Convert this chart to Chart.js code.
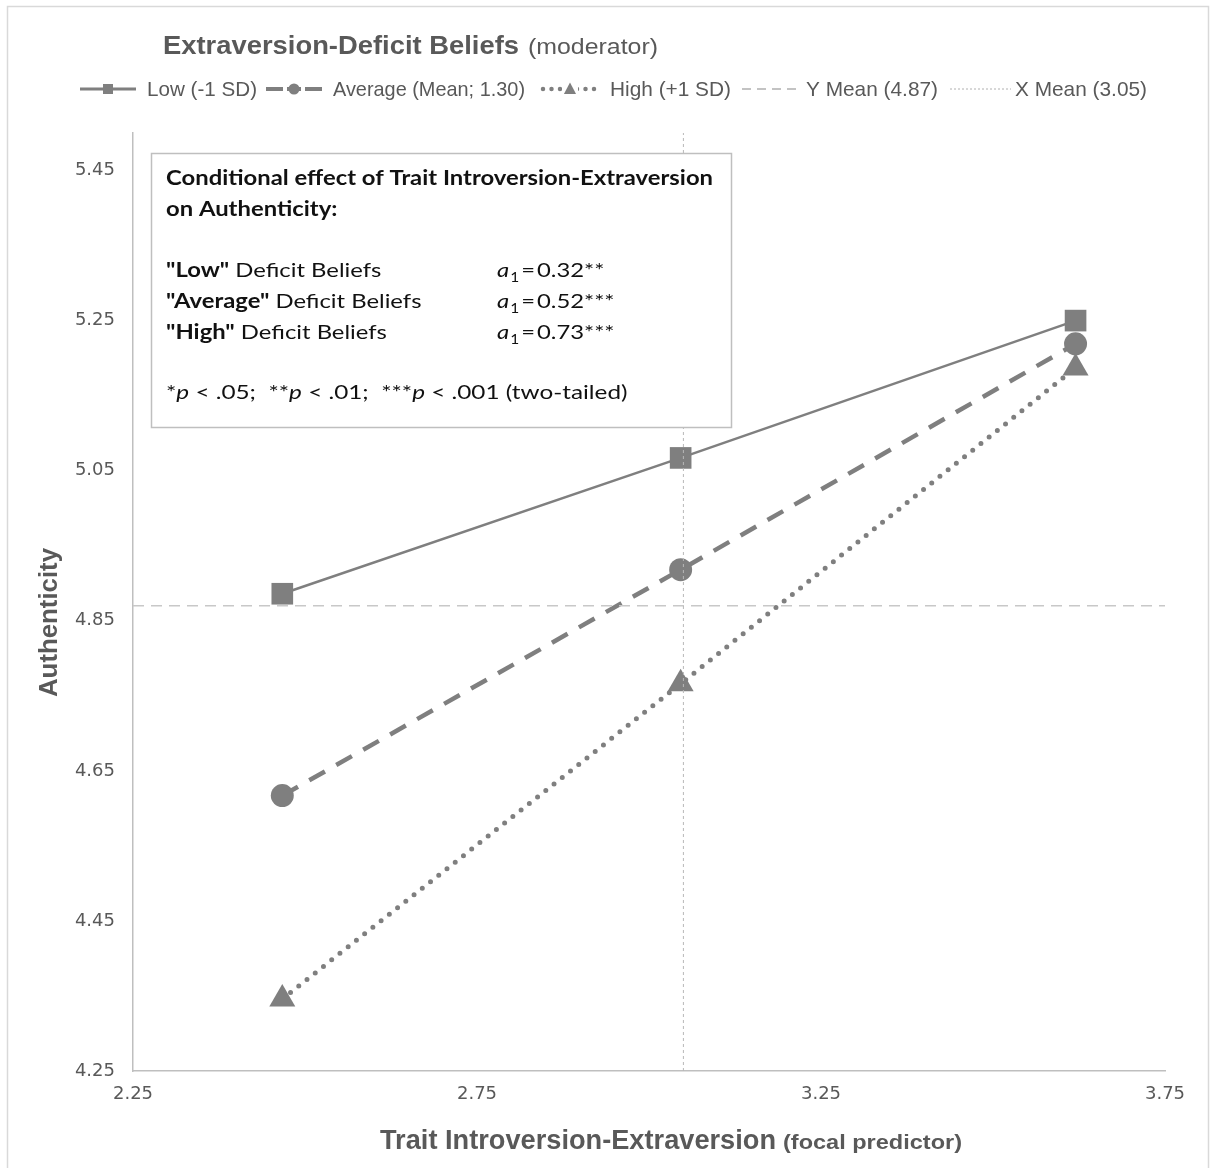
<!DOCTYPE html>
<html><head><meta charset="utf-8">
<script src="https://cdn.jsdelivr.net/npm/chart.js@4.4.0/dist/chart.umd.min.js"></script>
<style>html,body{margin:0;padding:0;background:#fff;}canvas{display:block;}</style>
</head><body>
<canvas id="c" width="1210" height="1168"></canvas>
<script>
// ---- data ----
const xValues = [2.467, 3.046, 3.62];
const lowValues = [4.886, 5.067, 5.250];
const avgValues = [4.617, 4.918, 5.219];
const highValues = [4.346, 4.766, 5.187];
const xMean = 3.05;
const yMean = 4.87;
const xRange = [2.25, 3.75];
const yRange = [4.25, 5.5];
const xTicks = [2.25, 2.75, 3.25, 3.75];
const yTicks = [4.25, 4.45, 4.65, 4.85, 5.05, 5.25, 5.45];
const legendLabels = ['Low (-1 SD)', 'Average (Mean; 1.30)', 'High (+1 SD)', 'Y Mean (4.87)', 'X Mean (3.05)'];
const groupNames = ['"Low"', '"Average"', '"High"'];
const slopeLabels = ['0.32**', '0.52***', '0.73***'];
const titleMain = 'Extraversion-Deficit Beliefs';
const titleSub = '(moderator)';
const xTitleMain = 'Trait Introversion-Extraversion';
const xTitleSub = '(focal predictor)';
const yTitle = 'Authenticity';

const GRAY = '#7f7f7f';
const TXT = '#595959';
const SANS = '"Liberation Sans", Arial, sans-serif';
const BOXF = 'Lato, "Open Sans", sans-serif';

const pts = ys => xValues.map((x, i) => ({x: x, y: ys[i]}));

function fitText(ctx, text, x, y, font, width, color, rot) {
  ctx.save();
  ctx.font = font; ctx.fillStyle = color; ctx.textBaseline = 'alphabetic'; ctx.textAlign = 'left';
  const w = ctx.measureText(text).width;
  const k = width ? width / w : 1;
  ctx.translate(x, y);
  if (rot) ctx.rotate(rot);
  ctx.scale(k, 1);
  ctx.fillText(text, 0, 0);
  ctx.restore();
}
function drawSegs(ctx, x, y, segs, k, color) {
  let cx = x;
  ctx.fillStyle = color; ctx.textBaseline = 'alphabetic'; ctx.textAlign = 'left';
  for (const s of segs) {
    ctx.font = s.f;
    const w = ctx.measureText(s.t).width * k;
    ctx.save(); ctx.translate(cx, y + (s.dy || 0)); ctx.scale(k, 1); ctx.fillText(s.t, 0, 0); ctx.restore();
    cx += w + (s.gap || 0);
  }
}
function marker(ctx, style, x, y, s) {
  ctx.fillStyle = GRAY;
  ctx.beginPath();
  if (style === 'rect') ctx.rect(x - s / 2, y - s / 2, s, s);
  else if (style === 'circle') ctx.arc(x, y, s / 2, 0, Math.PI * 2);
  else { ctx.moveTo(x, y - s * 0.6); ctx.lineTo(x + s * 0.55, y + s * 0.45); ctx.lineTo(x - s * 0.55, y + s * 0.45); ctx.closePath(); }
  ctx.fill();
}
function seg(ctx, x1, x2, y, w, color, dash, cap) {
  ctx.save(); ctx.strokeStyle = color; ctx.lineWidth = w; ctx.setLineDash(dash || []); ctx.lineCap = cap || 'butt';
  ctx.beginPath(); ctx.moveTo(x1, y); ctx.lineTo(x2, y); ctx.stroke(); ctx.restore();
}

const deco = {
  id: 'deco',
  beforeDraw(chart) {
    const ctx = chart.ctx;
    ctx.save();
    ctx.fillStyle = '#fff'; ctx.fillRect(0, 0, chart.width, chart.height);
    ctx.strokeStyle = '#d9d9d9'; ctx.lineWidth = 1.5;
    ctx.strokeRect(7.5, 6.5, 1201, 1200);
    ctx.restore();
  },
  afterDatasetsDraw(chart) {
    const ctx = chart.ctx;
    ctx.save();
    ctx.fillStyle = '#fff'; ctx.fillRect(151, 153, 581, 275);
    ctx.strokeStyle = '#bfbfbf'; ctx.lineWidth = 1.5; ctx.strokeRect(151.5, 153.5, 580, 274);
    const B = 'bold 20px ' + BOXF, R = '20px ' + BOXF, I = 'italic 20px ' + BOXF, S = '13px ' + BOXF;
    ctx.font = B;
    const line1 = 'Conditional effect of Trait Introversion-Extraversion';
    const k = 547 / ctx.measureText(line1).width;
    const col = '#111';
    drawSegs(ctx, 166, 185, [{t: line1, f: B}], k, col);
    drawSegs(ctx, 166, 216, [{t: 'on Authenticity:', f: B}], k, col);
    const ys = [277, 308, 339];
    for (let i = 0; i < 3; i++) {
      drawSegs(ctx, 166, ys[i], [{t: groupNames[i], f: B}, {t: ' Deficit Beliefs', f: R}], k, col);
      drawSegs(ctx, 497, ys[i], [{t: 'a', f: I, gap: 1}, {t: '1', f: S, dy: 5, gap: 2}, {t: '=', f: R, gap: 2}, {t: slopeLabels[i], f: R}], k, col);
    }
    drawSegs(ctx, 166, 399, [
      {t: '*', f: R}, {t: 'p', f: I}, {t: ' < .05;  **', f: R}, {t: 'p', f: I},
      {t: ' < .01;  ***', f: R}, {t: 'p', f: I}, {t: ' < .001 (two-tailed)', f: R}
    ], k * 1.02, col);
    ctx.restore();
  },
  afterDraw(chart) {
    const ctx = chart.ctx;
    ctx.save();
    fitText(ctx, titleMain, 163, 54, 'bold 26px ' + SANS, 356, TXT);
    fitText(ctx, titleSub, 528, 54, '22px ' + SANS, 130, TXT);
    const LY = 89;
    const LF = '21px ' + SANS;
    seg(ctx, 80, 136, LY, 3, GRAY);
    marker(ctx, 'rect', 108, LY, 10);
    fitText(ctx, legendLabels[0], 147, LY + 7, LF, 110, TXT);
    seg(ctx, 266, 322, LY, 4, GRAY);
    ctx.fillStyle = '#fff'; ctx.fillRect(283, LY - 3, 4, 6); ctx.fillRect(301, LY - 3, 4, 6);
    marker(ctx, 'circle', 294, LY, 11);
    fitText(ctx, legendLabels[1], 333, LY + 7, LF, 192, TXT);
    seg(ctx, 543, 600, LY, 4.5, GRAY, [0, 8.5], 'round');
    ctx.fillStyle = '#fff'; ctx.fillRect(562, LY - 8, 16, 16);
    marker(ctx, 'tri', 570, LY, 11);
    fitText(ctx, legendLabels[2], 610, LY + 7, LF, 121, TXT);
    seg(ctx, 742, 800, LY, 1.5, '#b0b0b0', [9, 6]);
    fitText(ctx, legendLabels[3], 806, LY + 7, LF, 132, TXT);
    seg(ctx, 950, 1011, LY, 1, '#b0b0b0', [2, 2]);
    fitText(ctx, legendLabels[4], 1015, LY + 7, LF, 132, TXT);
    fitText(ctx, xTitleMain, 380, 1149, 'bold 27px ' + SANS, 396, TXT);
    fitText(ctx, xTitleSub, 783, 1149, 'bold 21px ' + SANS, 179, TXT);
    fitText(ctx, yTitle, 57, 697, 'bold 26px ' + SANS, 149, TXT, -Math.PI / 2);
    ctx.restore();
  }
};

new Chart(document.getElementById('c'), {
  type: 'scatter',
  data: {
    datasets: [
      {label: legendLabels[4], data: [{x: xMean, y: yRange[0]}, {x: xMean, y: yRange[1]}], showLine: true,
       borderColor: '#b8b8b8', borderWidth: 1, borderDash: [3, 3], pointRadius: 0, order: 0},
      {label: legendLabels[3], data: [{x: xRange[0], y: yMean}, {x: xRange[1], y: yMean}], showLine: true,
       borderColor: '#c8c8c8', borderWidth: 1.5, borderDash: [11, 7], pointRadius: 0, order: 1},
      {label: legendLabels[0], data: pts(lowValues), showLine: true, borderColor: GRAY, backgroundColor: GRAY,
       borderWidth: 2.5, pointStyle: 'rect', pointRadius: 15.3, pointBorderWidth: 0, order: 2},
      {label: legendLabels[1], data: pts(avgValues), showLine: true, borderColor: GRAY, backgroundColor: GRAY,
       borderWidth: 4.5, borderDash: [18, 13], pointStyle: 'circle', pointRadius: 11.5, pointBorderWidth: 0, order: 3},
      {label: legendLabels[2], data: pts(highValues), showLine: true, borderColor: GRAY, backgroundColor: GRAY,
       borderWidth: 5, borderDash: [0, 10.5], borderCapStyle: 'round', pointStyle: 'triangle', pointRadius: 15, pointBorderWidth: 0, order: 4}
    ]
  },
  options: {
    responsive: false, animation: false, devicePixelRatio: 1,
    layout: {padding: {top: 133, right: 45, left: 0, bottom: 0}},
    plugins: {legend: {display: false}, title: {display: false}, tooltip: {enabled: false}},
    scales: {
      x: {
        type: 'linear', min: xRange[0], max: xRange[1],
        afterBuildTicks: s => { s.ticks = xTicks.map(v => ({value: v})); },
        afterFit: s => { s.height = 97; },
        grid: {display: false, drawTicks: false},
        border: {display: true, color: '#bfbfbf', width: 1.5},
        ticks: {padding: 13, color: TXT, font: {family: '"DejaVu Sans"', size: 18}, maxRotation: 0,
                callback: v => Number(v).toFixed(2)}
      },
      y: {
        type: 'linear', min: yRange[0], max: yRange[1],
        afterBuildTicks: s => { s.ticks = yTicks.map(v => ({value: v})); },
        afterFit: s => { s.width = 133; },
        grid: {display: false, drawTicks: false},
        border: {display: true, color: '#bfbfbf', width: 1.5},
        ticks: {padding: 18, color: TXT, font: {family: '"DejaVu Sans"', size: 18},
                callback: v => Number(v).toFixed(2)}
      }
    }
  },
  plugins: [deco]
});
</script>
</body></html>
